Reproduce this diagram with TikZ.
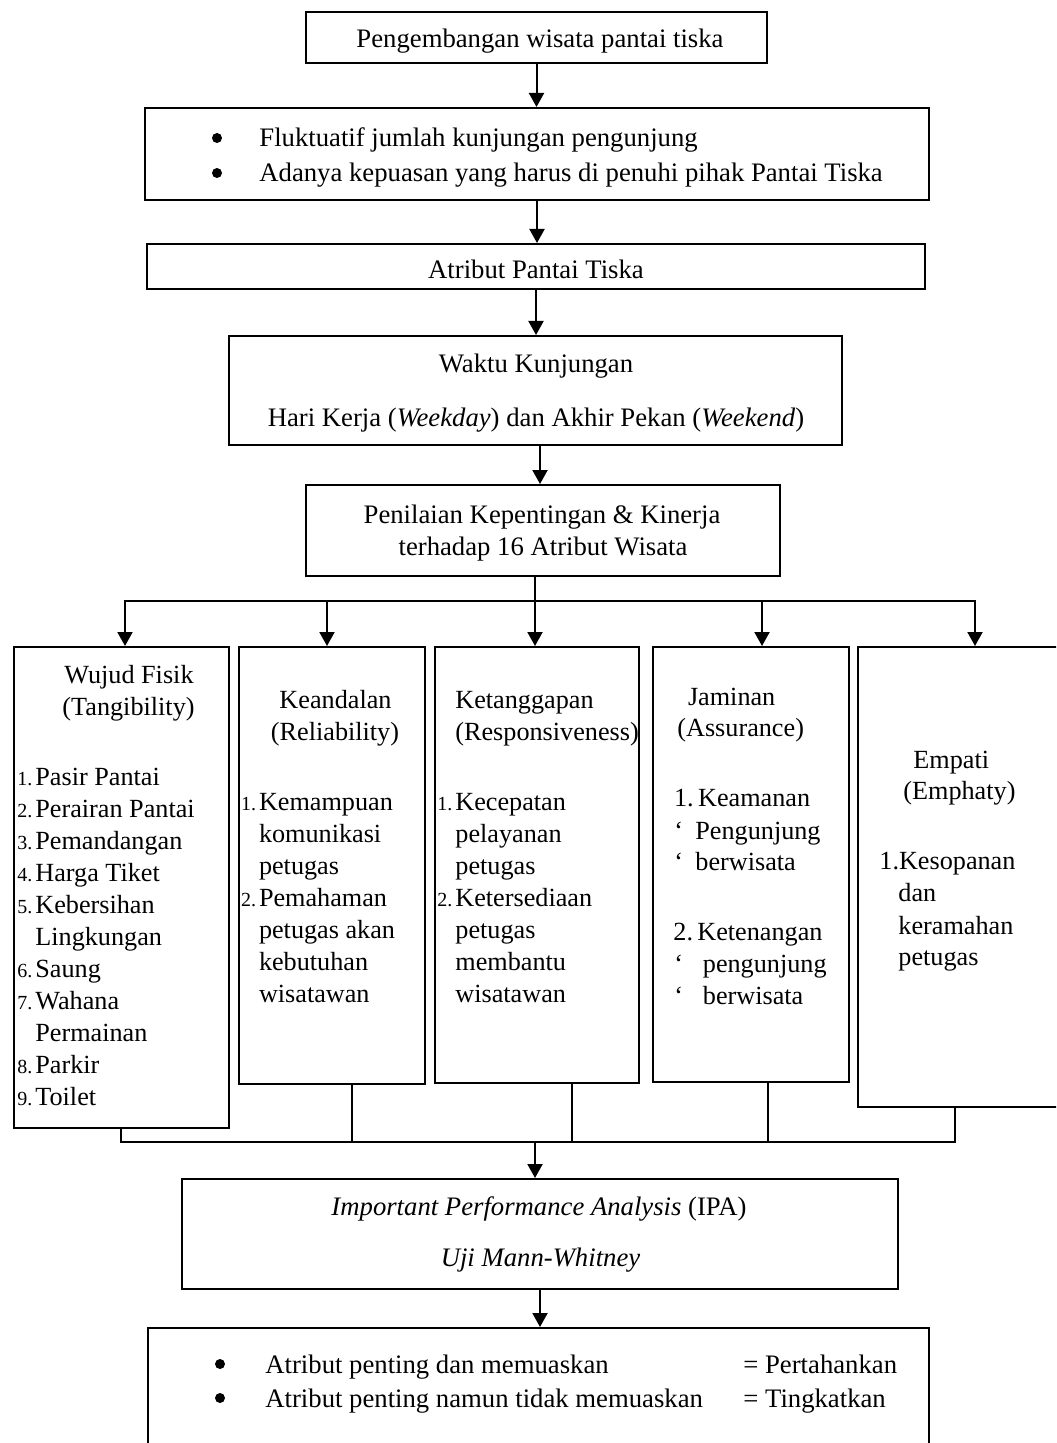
\documentclass[tikz,border=0pt]{standalone}
\usepackage{fontspec}
\setmainfont{Liberation Serif}
\usetikzlibrary{arrows.meta,fit}
\newcommand{\fs}{\fontsize{13.1}{15.6}\selectfont}
\newcommand{\fsb}{\fontsize{13.35}{15.8}\selectfont}
\newcommand{\numf}{\fontsize{10}{12}\selectfont}
\newcommand{\nm}[1]{\llap{\makebox[9pt][l]{\numf #1}}}
\begin{document}
\begin{tikzpicture}[x=0.5pt,y=-0.5pt,
  box/.style={draw, line width=1pt, inner sep=0pt},
  txt/.style={inner sep=0pt, anchor=base west, font=\fs},
  ctxt/.style={inner sep=0pt, anchor=base, font=\fs},
  btxt/.style={inner sep=0pt, anchor=base west, font=\fsb},
  bctxt/.style={inner sep=0pt, anchor=base, font=\fsb},
  bul/.style={circle, fill=black, inner sep=0pt, minimum size=5pt},
  ln/.style={line width=1pt},
  arr/.style={line width=1pt, -{Triangle[length=7pt,width=7.5pt]}}]
\useasboundingbox (0,0) rectangle (1056,1443);
\clip (0,0) rectangle (1056,1443);
% boxes
\node[box, fit={(306,12)(767,63)}] (b1) {};
\node[box, fit={(145,108)(929,200)}] (b2) {};
\node[box, fit={(147,244)(925,289)}] (b3) {};
\node[box, fit={(229,336)(842,445)}] (b4) {};
\node[box, fit={(306,485)(780,576)}] (b5) {};
\node[box, fit={(13.5,647)(228.5,1128)}] (cA) {};
\node[box, fit={(239,647)(425,1084)}] (cB) {};
\node[box, fit={(434.5,647)(638.6,1083)}] (cC) {};
\node[box, fit={(652.8,647)(849,1082)}] (cD) {};
\node[box, fit={(858,647)(1070,1107)}] (cE) {};
\node[box, fit={(182,1179)(898,1289)}] (b6) {};
\node[box, fit={(148,1328)(929,1470)}] (b7) {};
% top texts
\node[bctxt] (t1) at (540,48) {Pengembangan wisata pantai tiska};
\node[bul] (bu1) at (217,138) {};
\node[btxt] (t2a) at (259,147) {Fluktuatif jumlah kunjungan pengunjung};
\node[bul] (bu2) at (217,173) {};
\node[btxt] (t2b) at (259,182) {Adanya kepuasan yang harus di penuhi pihak Pantai Tiska};
\node[bctxt] (t3) at (536,279) {Atribut Pantai Tiska};
\node[bctxt] (t4a) at (536,372) {Waktu Kunjungan};
\node[bctxt] (t4b) at (536,426) {Hari Kerja (\textit{Weekday}) dan Akhir Pekan (\textit{Weekend})};
\node[bctxt] (t5a) at (542,523) {Penilaian Kepentingan \& Kinerja};
\node[bctxt] (t5b) at (543,555) {terhadap 16 Atribut Wisata};
% column A
\node[ctxt] (hA1) at (129,683) {Wujud Fisik};
\node[ctxt] (hA2) at (128.5,715) {(Tangibility)};
\foreach \t [count=\i from 0] in {{\nm{1.}Pasir Pantai},{\nm{2.}Perairan Pantai},{\nm{3.}Pemandangan},{\nm{4.}Harga Tiket},{\nm{5.}Kebersihan},{Lingkungan},{\nm{6.}Saung},{\nm{7.}Wahana},{Permainan},{\nm{8.}Parkir},{\nm{9.}Toilet}}
  \node[txt] (A\i) at (35,{785+32*\i}) {\t};
% column B
\node[ctxt] (hB1) at (335.5,708) {Keandalan};
\node[ctxt] (hB2) at (335,740) {(Reliability)};
\foreach \t [count=\i from 0] in {{\nm{1.}Kemampuan},{komunikasi},{petugas},{\nm{2.}Pemahaman},{petugas akan},{kebutuhan},{wisatawan}}
  \node[txt] (B\i) at (258.6,{810+32*\i}) {\t};
% column C
\node[txt] (hC1) at (455,708) {Ketanggapan};
\node[txt] (hC2) at (455,740) {(Responsiveness)};
\foreach \t [count=\i from 0] in {{\nm{1.}Kecepatan},{pelayanan},{petugas},{\nm{2.}Ketersediaan},{petugas},{membantu},{wisatawan}}
  \node[txt] (C\i) at (455,{810+32*\i}) {\t};
% column D
\node[txt] (hD1) at (687.6,705) {Jaminan};
\node[txt] (hD2) at (677,736) {(Assurance)};
\node[txt] (dD1) at (673.7,806) {1.\,Keamanan};
\node[txt] (qD1) at (674,839) {‘};
\node[txt] (dD2) at (695,839) {Pengunjung};
\node[txt] (qD2) at (674,870) {‘};
\node[txt] (dD3) at (695,870) {berwisata};
\node[txt] (dD4) at (673,940) {2.\,Ketenangan};
\node[txt] (qD3) at (674,972) {‘};
\node[txt] (dD5) at (702.5,972) {pengunjung};
\node[txt] (qD4) at (674,1004) {‘};
\node[txt] (dD6) at (702.5,1004) {berwisata};
% column E
\node[txt] (hE1) at (913,768) {Empati};
\node[txt] (hE2) at (903,799) {(Emphaty)};
\node[txt] (dE1) at (879,869) {1.Kesopanan};
\node[txt] (dE2) at (898,901) {dan};
\node[txt] (dE3) at (898,934) {keramahan};
\node[txt] (dE4) at (898,965) {petugas};
% IPA
\node[bctxt] (t6a) at (539,1215) {\textit{Important Performance Analysis} (IPA)};
\node[bctxt] (t6b) at (540.5,1266) {\textit{Uji Mann-Whitney}};
% final
\node[bul] (bu3) at (220,1364) {};
\node[btxt] (t7a) at (265,1373) {Atribut penting dan memuaskan};
\node[btxt] (t7b) at (743,1373) {= Pertahankan};
\node[bul] (bu4) at (220,1398) {};
\node[btxt] (t7c) at (265,1407) {Atribut penting namun tidak memuaskan};
\node[btxt] (t7d) at (743,1407) {= Tingkatkan};
% connectors
\draw[arr] (b1.south) -- (b2.north -| b1.south);
\draw[arr] (b2.south) -- (b3.north -| b2.south);
\draw[arr] (b3.south) -- (b4.north -| b3.south);
\coordinate (k45) at (540,445);
\draw[arr] (b4.south -| k45) -- (b5.north -| k45);
\coordinate (m1) at (535,601);
\coordinate (L1) at (125,601);
\coordinate (R1) at (975,601);
\coordinate (p2) at (327,601);
\coordinate (p4) at (762,601);
\draw[ln] (b5.south -| m1) -- (m1);
\draw[ln, line cap=rect] (L1) -- (R1);
\draw[arr] (L1) -- (cA.north -| L1);
\draw[arr] (p2) -- (cB.north -| p2);
\draw[arr] (m1) -- (cC.north -| m1);
\draw[arr] (p4) -- (cD.north -| p4);
\draw[arr] (R1) -- (cE.north -| R1);
\coordinate (L2) at (121,1142);
\coordinate (R2) at (955,1142);
\coordinate (q2) at (351.5,1142);
\coordinate (q3) at (572,1142);
\coordinate (q4) at (767.7,1142);
\coordinate (m2) at (535,1142);
\draw[ln] (cA.south -| L2) -- (L2) -- (R2) -- (cE.south -| R2);
\draw[ln] (cB.south -| q2) -- (q2);
\draw[ln] (cC.south -| q3) -- (q3);
\draw[ln] (cD.south -| q4) -- (q4);
\draw[arr] (m2) -- (b6.north -| m2);
\coordinate (k67) at (540,1289);
\draw[arr] (b6.south -| k67) -- (b7.north -| k67);
\end{tikzpicture}
\end{document}
